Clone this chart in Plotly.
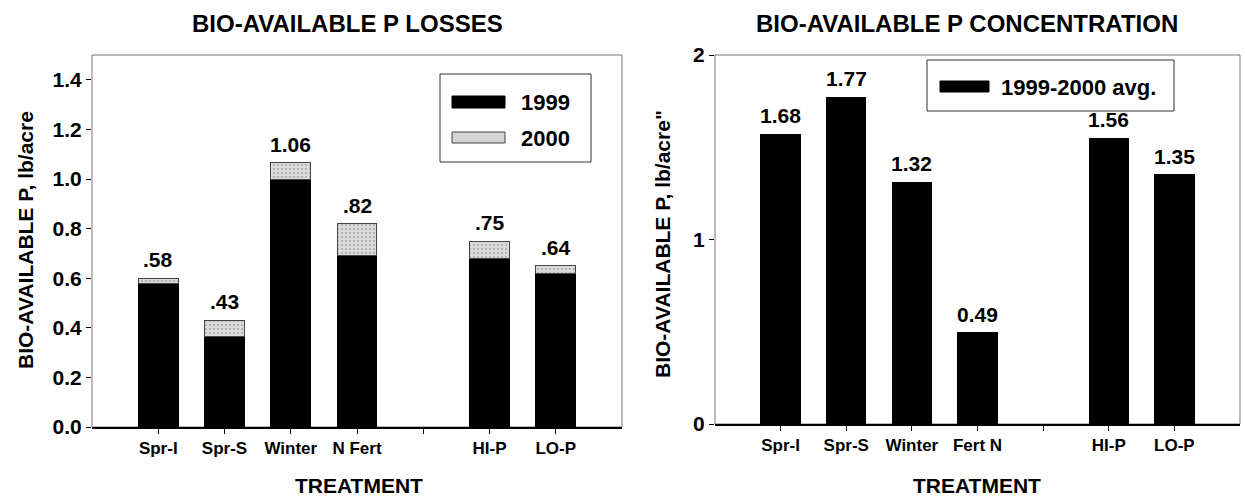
import plotly.graph_objects as go

# ---------------- data ----------------
cats_loss = ["Spr-I", "Spr-S", "Winter", "N Fert", "", "HI-P", "LO-P"]
loss_1999 = [0.58, 0.365, 1.0, 0.69, None, 0.68, 0.62]
loss_2000 = [0.02, 0.065, 0.065, 0.13, None, 0.07, 0.03]
loss_labels = [".58", ".43", "1.06", ".82", "", ".75", ".64"]

cats_conc = ["Spr-I", "Spr-S", "Winter", "Fert N", "", "HI-P", "LO-P"]
conc_avg = [1.57, 1.77, 1.31, 0.495, None, 1.55, 1.35]
conc_labels = ["1.68", "1.77", "1.32", "0.49", "", "1.56", "1.35"]

left_ticks = [0.0, 0.2, 0.4, 0.6, 0.8, 1.0, 1.2, 1.4]
right_ticks = [0, 1, 2]

FONT = "Liberation Sans, Arial, sans-serif"
W, H = 1245, 500
TOP, BOT = 55, 427  # pixel rows of the plotting area (paper 1 and 0)

xs_l = list(range(len(cats_loss)))
xs_r = list(range(len(cats_conc)))


def px(xp):
    return xp / W


def py(yp):
    return (BOT - yp) / (BOT - TOP)


fig = go.Figure()

fig.add_trace(go.Bar(
    x=xs_l, y=loss_1999, name="1999", width=0.6,
    marker=dict(color="black", line=dict(color="black", width=1)),
    xaxis="x", yaxis="y", showlegend=False))
fig.add_trace(go.Bar(
    x=xs_l, y=loss_2000, name="2000", width=0.6,
    marker=dict(color="#d4d4d4", line=dict(color="#444", width=1),
                pattern=dict(shape=".", fgcolor="#888", bgcolor="#dcdcdc",
                             size=4, solidity=0.25)),
    xaxis="x", yaxis="y", showlegend=False))
fig.add_trace(go.Bar(
    x=xs_r, y=conc_avg, name="1999-2000 avg.", width=0.6,
    marker=dict(color="black", line=dict(color="black", width=1)),
    xaxis="x2", yaxis="y2", showlegend=False))

annotations = []
# value labels
for x, a, b, t in zip(xs_l, loss_1999, loss_2000, loss_labels):
    if a is None:
        continue
    annotations.append(dict(x=x, y=a + b, xref="x", yref="y", text=f"<b>{t}</b>",
                            showarrow=False, xanchor="center", yanchor="bottom", yshift=5,
                            font=dict(family=FONT, size=21, color="black")))
for x, v, t in zip(xs_r, conc_avg, conc_labels):
    if v is None:
        continue
    annotations.append(dict(x=x, y=v, xref="x2", yref="y2", text=f"<b>{t}</b>",
                            showarrow=False, xanchor="center", yanchor="bottom", yshift=5,
                            font=dict(family=FONT, size=21, color="black")))


def label(x, y, text, size, angle=0, xanchor="center"):
    return dict(x=px(x), y=py(y), xref="paper", yref="paper", text=f"<b>{text}</b>",
                showarrow=False, xanchor=xanchor, yanchor="middle", textangle=angle,
                font=dict(family=FONT, size=size, color="black"))


annotations += [
    label(347, 23, "BIO-AVAILABLE P LOSSES", 24),
    label(967, 23, "BIO-AVAILABLE P CONCENTRATION", 24),
    label(359, 485, "TREATMENT", 21),
    label(977, 485, "TREATMENT", 21),
    label(25, 240, "BIO-AVAILABLE P, lb/acre", 21, angle=-90),
    label(662, 244, "BIO-AVAILABLE P, lb/acre\"", 21, angle=-90),
    label(519, 102, "1999", 22, xanchor="left"),
    label(519, 138, "2000", 22, xanchor="left"),
    label(999, 87, "1999-2000 avg.", 22, xanchor="left"),
]


def box(x0, x1, y0, y1, line, fill, width=1):
    return dict(type="rect", xref="paper", yref="paper", x0=px(x0), x1=px(x1),
                y0=py(y0), y1=py(y1), line=dict(color=line, width=width), fillcolor=fill)


shapes = [
    dict(type="rect", xref="x domain", yref="y domain", x0=0, x1=1, y0=0, y1=1,
         line=dict(color="#777", width=1), layer="below"),
    dict(type="rect", xref="x2 domain", yref="y2 domain", x0=0, x1=1, y0=0, y1=1,
         line=dict(color="#777", width=1), layer="below"),
    box(440, 591, 74, 162, "#333", "white"),
    box(452, 505, 96, 108, "black", "black"),
    box(452, 505, 132, 143, "#444", "#d4d4d4"),
    box(927, 1174, 60, 111, "#333", "white"),
    box(940, 989, 81, 92, "black", "black"),
]

axis_common = dict(showgrid=False, zeroline=False, ticks="outside", ticklen=5,
                   tickcolor="black", tickwidth=1, automargin=False)

fig.update_layout(
    width=W, height=H, autosize=False,
    margin=dict(l=0, r=0, t=TOP, b=H - BOT, pad=0, autoexpand=False),
    paper_bgcolor="white", plot_bgcolor="white",
    barmode="stack", showlegend=False,
    font=dict(family=FONT, color="black"),
    xaxis=dict(domain=[px(92), px(622)], range=[-1, 7], tickvals=xs_l,
               ticktext=[f"<b>{c}</b>" for c in cats_loss],
               tickfont=dict(family=FONT, size=17, color="black"),
               showline=True, linecolor="black", linewidth=1.5, anchor="y", **axis_common),
    yaxis=dict(domain=[0, 1], range=[0, 1.5], tickvals=left_ticks,
               ticktext=[f"<b>{v:.1f}</b>" for v in left_ticks],
               tickfont=dict(family=FONT, size=21, color="black"),
               showline=False, anchor="x", **axis_common),
    xaxis2=dict(domain=[px(715), px(1240)], range=[-1, 7], tickvals=xs_r,
                ticktext=[f"<b>{c}</b>" for c in cats_conc],
                tickfont=dict(family=FONT, size=17, color="black"),
                showline=True, linecolor="black", linewidth=1.5, anchor="y2", **axis_common),
    yaxis2=dict(domain=[3 / (BOT - TOP), 1], range=[0, 2], tickvals=right_ticks,
                ticktext=[f"<b>{v}</b>" for v in right_ticks],
                tickfont=dict(family=FONT, size=21, color="black"),
                showline=False, anchor="x2", **axis_common),
    annotations=annotations,
    shapes=shapes,
)

fig.write_html("out.html", config={"displayModeBar": False},
               post_script="document.body.style.margin='0';")
